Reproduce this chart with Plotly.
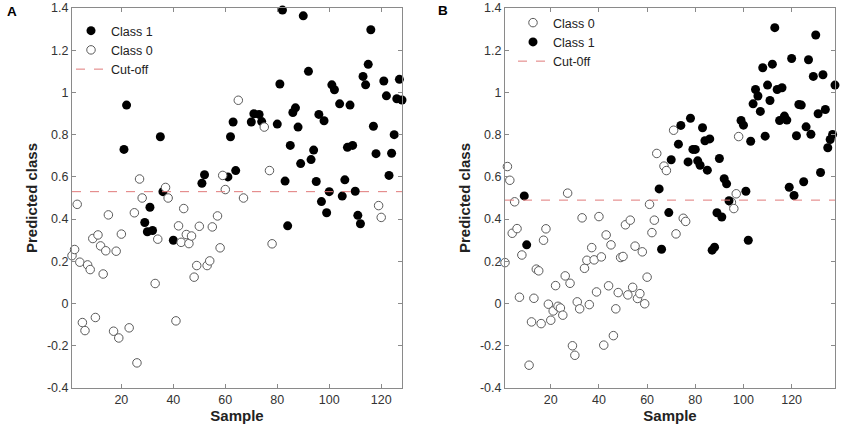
import plotly.graph_objects as go

# ---------------- Panel A data ----------------
a_c1_x = [21, 22, 29, 30, 31, 32, 35, 36, 40, 51, 52, 61, 62, 63, 64, 70, 71, 73, 74, 80,
          81, 82, 83, 84, 85, 86, 87, 88, 89, 90, 92, 93, 94, 95, 96, 97, 98, 99, 100, 101,
          102, 104, 105, 106, 107, 108, 109, 110, 111, 112, 113, 114, 115, 116, 117, 118,
          121, 122, 123, 124, 125, 126, 127, 128]
a_c1_y = [0.73, 0.94, 0.384, 0.34, 0.456, 0.346, 0.79, 0.53, 0.30, 0.57, 0.61, 0.60, 0.79, 0.86, 0.63, 0.86, 0.899, 0.896, 0.862, 0.85,
          1.04, 1.39, 0.58, 0.368, 0.749, 0.905, 0.927, 0.836, 0.663, 1.363, 1.10, 0.682, 0.727, 0.578, 0.896, 0.483, 0.866, 0.43, 0.53, 1.036,
          1.013, 0.946, 0.509, 0.586, 0.74, 0.94, 0.749, 0.532, 0.418, 0.378, 1.076, 1.036, 1.133, 1.297, 0.84, 0.71,
          1.054, 0.984, 0.607, 0.712, 0.80, 0.97, 1.062, 0.964]
a_c0_x = [1, 2, 3, 4, 5, 6, 7, 8, 9, 10, 11, 12, 13, 14, 15, 17, 18, 19, 20, 23,
          25, 26, 27, 28, 33, 34, 37, 38, 41, 42, 43, 44, 45, 46, 47, 48, 49, 50, 53, 54,
          55, 57, 58, 59, 60, 65, 67, 75, 77, 78, 119, 120]
a_c0_y = [0.227, 0.256, 0.47, 0.196, -0.09, -0.128, 0.183, 0.161, 0.308, -0.066, 0.325, 0.273, 0.14, 0.25, 0.42, -0.131, 0.248, -0.163, 0.329, -0.115,
          0.43, -0.281, 0.59, 0.50, 0.095, 0.305, 0.55, 0.50, -0.082, 0.368, 0.29, 0.45, 0.327, 0.284, 0.32, 0.125, 0.18, 0.366, 0.18, 0.202,
          0.363, 0.415, 0.264, 0.607, 0.54, 0.963, 0.50, 0.836, 0.63, 0.283, 0.464, 0.408]
a_cut = 0.53
a_xlim = [1, 128]

# ---------------- Panel B data ----------------
b_c0_x = [1, 2, 3, 4, 5, 6, 7, 8, 11, 12, 13, 14, 15, 16, 17, 18, 19, 20, 21, 22,
          23, 24, 25, 26, 27, 28, 29, 30, 31, 32, 33, 34, 35, 36, 37, 38, 39, 40, 41, 42,
          43, 44, 45, 46, 47, 48, 49, 50, 51, 52, 53, 54, 55, 56, 57, 58, 59, 60, 61, 62,
          63, 64, 67, 68, 71, 72, 75, 76, 95, 96, 97, 98]
b_c0_y = [0.194, 0.649, 0.584, 0.333, 0.482, 0.355, 0.03, 0.23, -0.292, -0.087, 0.025, 0.163, 0.155, -0.095, 0.30, 0.354, -0.003, -0.079, -0.035, 0.085,
          -0.013, -0.021, -0.055, 0.131, 0.523, 0.096, -0.20, -0.245, 0.008, -0.025, 0.406, 0.167, 0.205, -0.005, 0.265, 0.207, 0.055, 0.412, 0.221, -0.197,
          0.325, 0.084, 0.278, -0.152, -0.025, 0.052, 0.218, 0.223, 0.373, 0.041, 0.395, 0.077, 0.272, 0.024, 0.047, 0.245, -0.001, 0.125, 0.47, 0.336,
          0.395, 0.711, 0.651, 0.63, 0.821, 0.33, 0.404, 0.389, 0.48, 0.45, 0.52, 0.791]
b_c1_x = [9, 10, 65, 66, 69, 70, 73, 74, 77, 78, 79, 80, 81, 82, 83, 84, 85, 86, 87, 88,
          89, 90, 91, 92, 93, 94, 99, 100, 101, 102, 103, 104, 105, 106, 107, 108, 109, 110, 111, 112,
          113, 114, 115, 116, 117, 118, 119, 120, 121, 122, 123, 124, 125, 126, 127, 128, 129, 130, 131, 132,
          133, 134, 135, 136, 137, 138]
b_c1_y = [0.51, 0.278, 0.543, 0.257, 0.431, 0.681, 0.755, 0.844, 0.671, 0.878, 0.73, 0.73, 0.676, 0.655, 0.833, 0.771, 0.632, 0.78, 0.253, 0.267,
          0.43, 0.687, 0.41, 0.591, 0.567, 0.487, 0.867, 0.845, 0.532, 0.30, 0.769, 0.946, 1.014, 0.983, 0.91, 1.117, 0.793, 1.035, 0.962, 1.134,
          1.307, 1.014, 0.867, 1.022, 0.888, 0.869, 0.551, 1.161, 0.512, 0.795, 0.943, 0.94, 0.577, 0.837, 1.155, 0.802, 1.076, 1.272, 0.899, 0.621,
          1.084, 0.919, 0.738, 0.777, 0.801, 1.035]
b_cut = 0.49
b_xlim = [1, 138]

y_ticks = [-0.4, -0.2, 0, 0.2, 0.4, 0.6, 0.8, 1, 1.2, 1.4]
y_tick_text = ["-0.4", "-0.2", "0", "0.2", "0.4", "0.6", "0.8", "1", "1.2", "1.4"]
x_ticks = [20, 40, 60, 80, 100, 120]

FONT = "Liberation Sans, Arial, sans-serif"
filled = dict(size=9, color="black", line=dict(width=0))
opened = dict(size=8.5, color="white", line=dict(width=1, color="#5a5a5a"))
cutline = dict(color="#e07a7a", width=1, dash="dash")

fig = go.Figure()
# Panel A traces (legend order: Class 1, Class 0, Cut-off)
fig.add_trace(go.Scatter(x=a_c1_x, y=a_c1_y, mode="markers", name="Class 1", marker=filled, cliponaxis=False,
                         xaxis="x", yaxis="y", legend="legend"))
fig.add_trace(go.Scatter(x=a_c0_x, y=a_c0_y, mode="markers", name="Class 0", marker=opened, cliponaxis=False,
                         xaxis="x", yaxis="y", legend="legend"))
fig.add_trace(go.Scatter(x=a_xlim, y=[a_cut, a_cut], mode="lines", name="Cut-off", line=cutline,
                         xaxis="x", yaxis="y", legend="legend"))
# Panel B traces (legend order: Class 0, Class 1, Cut-0ff)
fig.add_trace(go.Scatter(x=b_c0_x, y=b_c0_y, mode="markers", name="Class 0", marker=opened, cliponaxis=False,
                         xaxis="x2", yaxis="y2", legend="legend2"))
fig.add_trace(go.Scatter(x=b_c1_x, y=b_c1_y, mode="markers", name="Class 1", marker=filled, cliponaxis=False,
                         xaxis="x2", yaxis="y2", legend="legend2"))
fig.add_trace(go.Scatter(x=b_xlim, y=[b_cut, b_cut], mode="lines", name="Cut-0ff", line=cutline,
                         xaxis="x2", yaxis="y2", legend="legend2"))

def xax(domain, rng, anchor):
    return dict(domain=domain, range=rng, anchor=anchor, tickvals=x_ticks, ticks="inside", ticklen=4,
                tickcolor="#8a8a8a", showline=True, linecolor="#8a8a8a", linewidth=1, mirror="ticks",
                showgrid=False, zeroline=False, automargin=False,
                tickfont=dict(size=12.5, color="#333333", family=FONT),
                title=dict(text="<b>Sample</b>", font=dict(size=15, color="#222222", family=FONT), standoff=3))

def yax(domain, anchor):
    return dict(domain=domain, range=[-0.4, 1.4], anchor=anchor, tickvals=y_ticks, ticktext=y_tick_text,
                ticks="inside", ticklen=4, tickcolor="#8a8a8a", showline=True, linecolor="#8a8a8a", linewidth=1,
                mirror="ticks", showgrid=False, zeroline=False, automargin=False,
                tickfont=dict(size=12.5, color="#333333", family=FONT),
                title=dict(text="<b>Predicted class</b>", font=dict(size=15, color="#222222", family=FONT), standoff=5))

ydom = [1 - 388 / 432, 1 - 8 / 432]
fig.update_layout(
    width=848, height=432, autosize=False,
    margin=dict(l=0, r=0, t=0, b=0, autoexpand=False),
    paper_bgcolor="white", plot_bgcolor="white",
    font=dict(family=FONT, color="#222222"),
    xaxis=xax([72 / 848, 402 / 848], [a_xlim[0], a_xlim[1]], "y"),
    yaxis=yax(ydom, "x"),
    xaxis2=xax([505 / 848, 835 / 848], [b_xlim[0], b_xlim[1]], "y2"),
    yaxis2=yax(ydom, "x2"),
    legend=dict(x=71 / 848, y=1 - 16 / 432, xanchor="left", yanchor="top", bgcolor="rgba(0,0,0,0)",
                font=dict(size=12.5, color="#222222", family=FONT), tracegroupgap=0),
    legend2=dict(x=513 / 848, y=1 - 8 / 432, xanchor="left", yanchor="top", bgcolor="rgba(0,0,0,0)",
                 font=dict(size=12.5, color="#222222", family=FONT), tracegroupgap=0),
    annotations=[
        dict(text="<b>A</b>", x=5 / 848, y=1 - 2 / 432, xref="paper", yref="paper", xanchor="left",
             yanchor="top", showarrow=False, font=dict(size=13.5, color="black", family=FONT)),
        dict(text="<b>B</b>", x=436 / 848, y=1 - 1 / 432, xref="paper", yref="paper", xanchor="left",
             yanchor="top", showarrow=False, font=dict(size=13.5, color="black", family=FONT)),
    ],
    showlegend=True,
)

fig.write_html("out.html", config={"displayModeBar": False},
               post_script="document.body.style.margin='0px';document.body.style.overflow='hidden';")
